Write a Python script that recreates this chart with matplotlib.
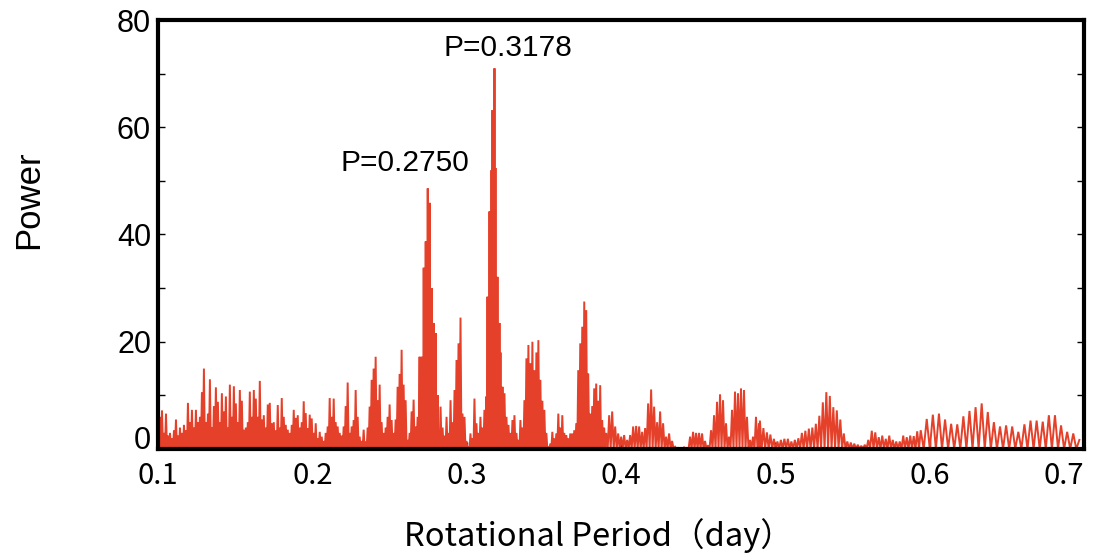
import numpy as np
import matplotlib
matplotlib.use('Agg')
import matplotlib.pyplot as plt


LINE_COLOR = '#E5402A'
LATIN_FONT = 'Liberation Sans'
JP_FONT    = ['Noto Sans CJK JP', 'DejaVu Sans']

# period range (day) covered by each block of local maxima
PERIOD_RANGES = [(0.1000, 0.1983), (0.1996, 0.2695), (0.2702, 0.2813),
                 (0.2818, 0.3128), (0.3135, 0.3232), (0.3245, 0.3891),
                 (0.3904, 0.4894), (0.4900, 0.5942), (0.5981, 0.6970)]

POWER_A = [4, 6, 7.2, 3, 6.6, 2.5, 3, 2, 3.5, 5.5,
           2.5, 4, 3, 4.5, 3.5, 8.6, 5, 7.3, 4, 7.3,
           5, 6, 10.6, 15, 5, 6.6, 13, 4, 8, 11.5,
           8.8, 5, 10.4, 7, 9.8, 4, 12, 6, 11.7, 8.5,
           5, 11, 9, 3.6, 4, 5, 10.7, 6, 11, 9.4,
           6, 12.7, 5.5, 6.3, 4, 8.3, 8.6, 4.8, 5, 3.5,
           8.2, 4, 9.5, 6, 4.5, 3.6, 3, 4.5, 7.3, 5.8,
           6.3, 4, 5, 8.9, 6.7, 3.9, 6.4]
POWER_B = [5.7, 3, 4.8, 2, 3.2, 2.3, 1.5, 3, 4.2, 9.5,
           6, 9.4, 5, 4.2, 3, 2.5, 4.2, 8, 12.4, 3,
           4.2, 5.4, 11, 6, 2.3, 1.5, 3.6, 1.4, 4, 7.9,
           12.9, 15, 17.2, 9.1, 12, 5, 3, 4, 6, 8.3,
           5.4, 3, 5.5, 11.6, 14, 18.5, 12, 9.1, 1.7, 3,
           7, 9.2, 4.2, 6, 17.2]
POWER_C = [6, 17.2, 8, 33.8, 20, 38.7, 25, 48.6, 35, 45.9,
           20, 30, 12, 23.5, 8, 21.6, 5, 10]
POWER_D = [3, 7.9, 4, 2.5, 6, 3, 9.1, 5, 11, 16.6,
           19.7, 24.5, 6.6, 6, 1.5, 0.4, 2.9, 2, 9.4, 4.8,
           3, 6, 4, 7.3, 9.8]
POWER_E = [28.4, 15, 44.3, 30, 52, 63.2, 40, 71, 52.4, 30,
           32.1, 15, 23.5, 18, 8, 11.6]
POWER_F = [10.4, 6, 4.5, 3, 5.4, 6.3, 3, 1.7, 5.4, 4,
           9.1, 16.9, 19.4, 16, 20, 14.7, 18, 20.3, 12.9, 9,
           7.3, 3, 0.4, 1, 3.2, 2, 2.9, 6.6, 4, 6.3,
           3, 2.6, 2, 2.9, 2.9, 3.5, 4.8, 14.7, 19.7, 22.8,
           27.5, 25.9, 14.1, 6.6, 8, 11.3, 12.2, 9, 11.9, 5.4,
           4]
POWER_G = [3, 6.3, 7, 4.2, 2.9, 2.3, 2.6, 1.7, 2.6, 4.2,
           4.3, 4.2, 3.2, 3.9, 8.5, 11.1, 7.9, 5, 7, 4.8,
           2.3, 2.9, 1.5, 0.4, 0.2, 0.1, 0.3, 0.1, 2.3, 3.2,
           3, 3, 2.9, 1.5, 0.7, 3.5, 6.3, 8.8, 10.2, 9.1,
           4.8, 2.3, 7.3, 10.7, 10.4, 11.3, 11, 6, 1.7, 2.3,
           6, 4.8]
POWER_H = [5.3, 3.9, 3.1, 2.7, 1.9, 1.4, 1.7, 1.9, 1.9, 1.4,
           1.7, 2.0, 3.0, 3.4, 3.8, 4.0, 4.7, 6.2, 8.7, 10.6,
           9.9, 7.8, 7.2, 5.5, 2.9, 1.4, 1.2, 1.0, 0.8, 0.6,
           0.8, 1.7, 3.4, 3.1, 2.2, 2.5, 1.9, 2.5, 1.7, 1.4,
           1.4, 2.5, 2.2, 2.5, 2.4, 3.3, 3.5]
POWER_I = [5.6, 6.4, 6.6, 5.5, 4.7, 4.6, 6.1, 7.1, 7.8, 8.5,
           6.9, 5.0, 4.2, 4.4, 4.2, 3.2, 4.6, 5.3, 5.3, 5.1,
           6.3, 6.3, 4.4, 3.2, 2.9, 1.7]
POWER_BLOCKS = [POWER_A, POWER_B, POWER_C, POWER_D, POWER_E,
                POWER_F, POWER_G, POWER_H, POWER_I]

PEAK_LABELS = ['P=0.2750', 'P=0.3178']
LABEL_AT    = [(0.2598, 53.4), (0.3270, 74.8)]

X_TICKS = [0.1, 0.2, 0.3, 0.4, 0.5, 0.6, 0.7]
Y_TICKS = [0, 20, 40, 60, 80]


def build_curve():
    """Maxima spread over each block, curve returns to baseline between them."""
    px, py = [], []
    for (p0, p1), vals in zip(PERIOD_RANGES, POWER_BLOCKS):
        px.extend(np.linspace(p0, p1, len(vals)))
        py.extend(vals)
    px, py = np.array(px), np.array(py, dtype=float)
    x = np.empty(2 * len(px) - 1)
    y = np.zeros(2 * len(px) - 1)
    x[0::2], y[0::2] = px, py
    x[1::2] = 0.5 * (px[:-1] + px[1:])
    return x, y


def main():
    fig = plt.figure(figsize=(10.93, 5.53), dpi=100)
    ax = fig.add_axes([158 / 1093, 104 / 553, 926 / 1093, 429 / 553])

    x, y = build_curve()
    ax.plot(x, y, color=LINE_COLOR, lw=1.4, solid_joinstyle='miter')

    ax.set_xlim(0.1, 0.7)
    ax.set_ylim(0, 80)
    ax.set_xticks(X_TICKS)
    ax.set_xticklabels([f'{t:g}' for t in X_TICKS], family=JP_FONT, fontsize=21)
    ax.set_yticks(Y_TICKS)
    ax.set_yticklabels([str(t) for t in Y_TICKS], family=LATIN_FONT, fontsize=22)
    ax.set_yticks([10, 30, 50, 70], minor=True)

    ax.tick_params(axis='y', which='both', direction='in', right=True,
                   length=5, width=1, pad=5)
    ax.tick_params(axis='x', direction='in', length=5, width=1, pad=9)
    for sp in ax.spines.values():
        sp.set_linewidth(3)

    # last x label sits left of its tick, "0" is lifted off the corner
    ax.xaxis.get_major_ticks()[-1].label1.set_horizontalalignment('right')
    ax.yaxis.get_major_ticks()[0].label1.set_verticalalignment('baseline')

    ax.set_ylabel('Power', family=LATIN_FONT, fontsize=25)
    ax.yaxis.set_label_coords(-0.122, 0.58)
    ax.set_xlabel('Rotational Period（day）', family=JP_FONT, fontsize=23.5)
    ax.xaxis.set_label_coords(0.476, -0.161)

    for txt, (px, py) in zip(PEAK_LABELS, LABEL_AT):
        ax.text(px, py, txt, ha='center', va='center',
                family=LATIN_FONT, fontsize=21.5)

    fig.savefig('out.png', dpi=100)


if __name__ == '__main__':
    main()
